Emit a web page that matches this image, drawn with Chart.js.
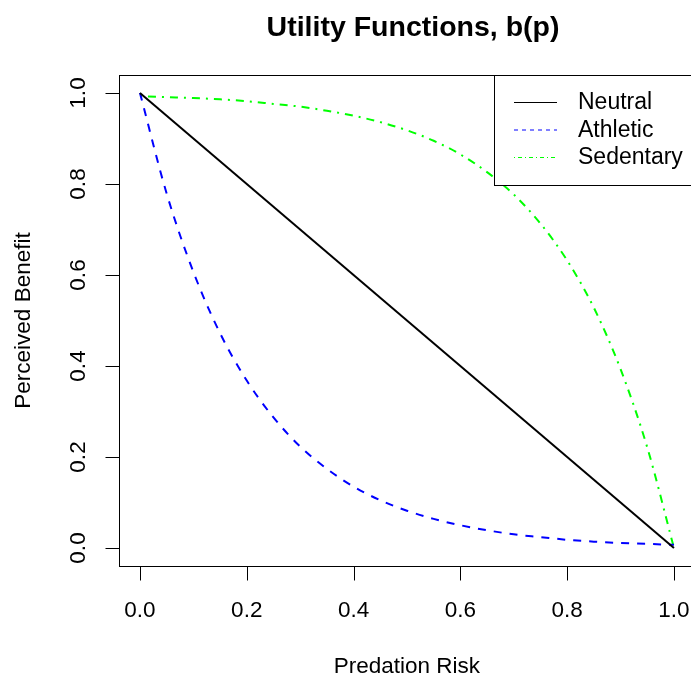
<!DOCTYPE html>
<html>
<head>
<meta charset="utf-8">
<script src="https://cdn.jsdelivr.net/npm/chart.js@4/dist/chart.umd.min.js"></script>
<style>
  html, body { margin: 0; padding: 0; background: #ffffff; }
  #wrap { width: 691px; height: 681px; }
</style>
</head>
<body>
<div id="wrap"><canvas id="c" width="691" height="681"></canvas></div>
<script>
// ---- data ----
const chartTitle = "Utility Functions, b(p)";
const xTitle = "Predation Risk";
const yTitle = "Perceived Benefit";
const seriesNames = ["Neutral", "Athletic", "Sedentary"];
const tickValues = [0, 0.2, 0.4, 0.6, 0.8, 1.0];
const tickLabels = ["0.0", "0.2", "0.4", "0.6", "0.8", "1.0"];

const risk = [0, 0.05, 0.10, 0.15, 0.20, 0.25, 0.30, 0.35, 0.40, 0.45, 0.50,
              0.55, 0.60, 0.65, 0.70, 0.75, 0.80, 0.85, 0.90, 0.95, 1.00];
const neutralRisk = [0, 1];
const neutral = [1, 0];
const athletic = [1.000, 0.779, 0.607, 0.472, 0.368, 0.287, 0.223, 0.174, 0.135, 0.105, 0.082,
                  0.064, 0.050, 0.039, 0.030, 0.024, 0.018, 0.014, 0.011, 0.009, 0.007];
const sedentary = [0.993, 0.991, 0.989, 0.986, 0.982, 0.976, 0.970, 0.961, 0.950, 0.936, 0.918,
                   0.895, 0.865, 0.826, 0.777, 0.713, 0.632, 0.528, 0.393, 0.221, 0.000];

const FONT = '"Liberation Sans", Arial, Helvetica, sans-serif';

function pts(xs, ys) { return xs.map((x, i) => ({ x: x, y: ys[i] })); }

const legendDash = [[], [4, 4], [1, 3, 4, 3]];

// plot region spans -0.04..1.04 on both axes; the canvas cuts it off on the right
const PAD_L = 118.6, CANVAS_W = 691;
const X_PX_PER_UNIT = 534;
const X_MAX_VISIBLE = -0.04 + (CANVAS_W - PAD_L) / X_PX_PER_UNIT;

const rPlot = {
  id: 'rPlot',
  afterDatasetsDraw(chart) {
    const ctx = chart.ctx;
    const xs = chart.scales.x, ys = chart.scales.y;
    const L = Math.round(xs.getPixelForValue(-0.04)) + 0.5;
    const R = Math.round(xs.getPixelForValue(1.04)) + 0.5;
    const T = Math.round(ys.getPixelForValue(1.04)) + 0.5;
    const B = Math.round(ys.getPixelForValue(-0.04)) + 0.5;
    ctx.save();
    ctx.strokeStyle = '#000';
    ctx.lineWidth = 1;
    ctx.setLineDash([]);
    ctx.strokeRect(L, T, R - L, B - T);
    ctx.fillStyle = '#000';
    ctx.font = '22.5px ' + FONT;
    ctx.textAlign = 'center';
    ctx.textBaseline = 'alphabetic';
    ctx.beginPath();
    tickValues.forEach((v) => {
      const px = Math.round(xs.getPixelForValue(v)) + 0.5;
      ctx.moveTo(px, B); ctx.lineTo(px, B + 14);
    });
    ctx.stroke();
    tickValues.forEach((v, i) => {
      ctx.fillText(tickLabels[i], xs.getPixelForValue(v), 617);
    });
    ctx.beginPath();
    tickValues.forEach((v) => {
      const py = Math.round(ys.getPixelForValue(v)) + 0.5;
      ctx.moveTo(L, py); ctx.lineTo(L - 14, py);
    });
    ctx.stroke();
    tickValues.forEach((v, i) => {
      ctx.save();
      ctx.translate(85, ys.getPixelForValue(v));
      ctx.rotate(-Math.PI / 2);
      ctx.fillText(tickLabels[i], 0, 0);
      ctx.restore();
    });
    ctx.fillText(xTitle, (xs.getPixelForValue(-0.04) + xs.getPixelForValue(1.04)) / 2, 673);
    ctx.save();
    ctx.translate(30, (ys.getPixelForValue(-0.04) + ys.getPixelForValue(1.04)) / 2);
    ctx.rotate(-Math.PI / 2);
    ctx.fillText(yTitle, 0, 0);
    ctx.restore();
    ctx.font = 'bold 28.5px ' + FONT;
    ctx.fillText(chartTitle, 413, 36);
    // legend
    const lx = 494.5, ly = T;
    ctx.fillStyle = '#fff';
    ctx.fillRect(lx, ly, CANVAS_W - lx + 10, 185 - ly);
    ctx.strokeStyle = '#000';
    ctx.strokeRect(lx, ly, CANVAS_W - lx + 10, 185.5 - ly);
    const rows = [102, 129.5, 157];
    ctx.font = '23px ' + FONT;
    ctx.textAlign = 'left';
    ctx.textBaseline = 'middle';
    chart.data.datasets.forEach((ds, i) => {
      ctx.strokeStyle = ds.borderColor;
      ctx.lineWidth = 1;
      ctx.setLineDash(legendDash[i]);
      ctx.beginPath();
      ctx.moveTo(514, rows[i] + 0.5);
      ctx.lineTo(557, rows[i] + 0.5);
      ctx.stroke();
      ctx.fillStyle = '#000';
      ctx.fillText(ds.label, 578, rows[i] + 1);
    });
    ctx.restore();
  }
};

new Chart(document.getElementById('c'), {
  type: 'line',
  data: {
    datasets: [
      { label: seriesNames[0], data: pts(neutralRisk, neutral), borderColor: '#000000',
        borderWidth: 2, pointRadius: 0, borderDash: [] },
      { label: seriesNames[1], data: pts(risk, athletic), borderColor: '#0000ff',
        borderWidth: 2, pointRadius: 0, borderDash: [8, 8], cubicInterpolationMode: 'monotone' },
      { label: seriesNames[2], data: pts(risk, sedentary), borderColor: '#00ff00',
        borderWidth: 2, pointRadius: 0, borderDash: [2, 6, 8, 6], cubicInterpolationMode: 'monotone' }
    ]
  },
  options: {
    responsive: false,
    animation: false,
    events: [],
    layout: { padding: { left: PAD_L, top: 74.8, right: 0, bottom: 114.8 } },
    scales: {
      x: { type: 'linear', min: -0.04, max: X_MAX_VISIBLE, display: false },
      y: { type: 'linear', min: -0.04, max: 1.04, display: false }
    },
    plugins: { legend: { display: false }, title: { display: false }, tooltip: { enabled: false } }
  },
  plugins: [rPlot]
});
</script>
</body>
</html>
